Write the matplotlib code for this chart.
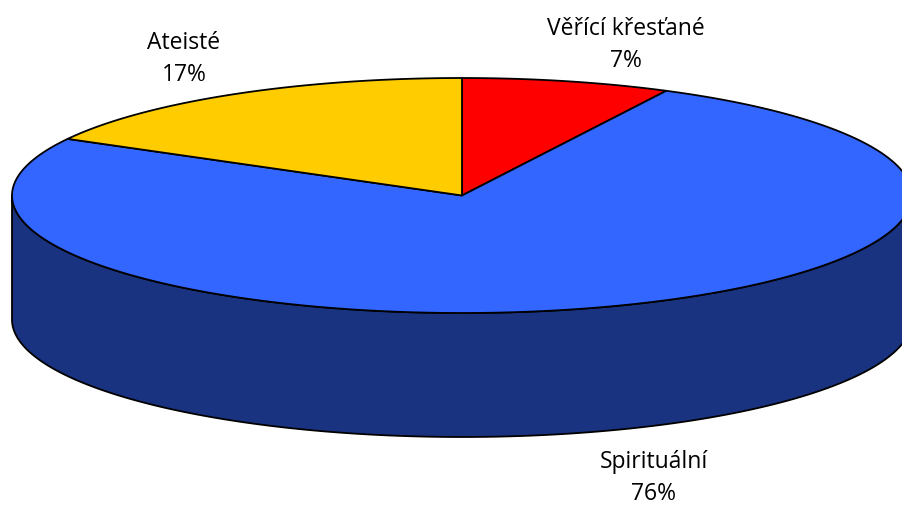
import numpy as np
import matplotlib
matplotlib.use("Agg")
import matplotlib.pyplot as plt
from matplotlib.patches import Polygon

labels = ["Věřící křesťané", "Spirituální", "Ateisté"]
percent_labels = ["7%", "76%", "17%"]
slice_shares = [7.5, 75.5, 17]
colors = ["#FF0000", "#3366FF", "#FFCC00"]
side_color = "#1A3380"
label_pos = [(626, 45), (654, 478), (184, 59)]

W, H = 903, 505
CX, CY, RX, RY, DEPTH = 462, 195.5, 450, 117.5, 124

fig = plt.figure(figsize=(W / 100, H / 100), dpi=100)
ax = fig.add_axes([0, 0, 1, 1])
ax.set_xlim(0, W)
ax.set_ylim(H, 0)
ax.axis("off")


def rim(a0, a1, n=300):
    t = np.linspace(a0, a1, n)
    return CX + RX * np.sin(t), CY - RY * np.cos(t)


# Side wall: the front half of the rim, extruded downwards
x, y = rim(np.pi / 2, 3 * np.pi / 2)
ax.add_patch(Polygon(np.r_[np.c_[x, y], np.c_[x[::-1], y[::-1] + DEPTH]],
                     closed=True, fc=side_color, ec="black", lw=1.3, joinstyle="round"))

# Top slices, clockwise from twelve o'clock
total = sum(slice_shares)
start = 0.0
for v, c in zip(slice_shares, colors):
    end = start + 2 * np.pi * v / total
    x, y = rim(start, end)
    ax.add_patch(Polygon(np.r_[[[CX, CY]], np.c_[x, y]], closed=True,
                         fc=c, ec="black", lw=1.3, joinstyle="round"))
    start = end

for lab, pct, (lx, ly) in zip(labels, percent_labels, label_pos):
    ax.text(lx, ly, f"{lab}\n{pct}", ha="center", va="center", fontsize=16.5,
            family="Open Sans", color="black", linespacing=1.46)

fig.savefig("out.png", dpi=100)
